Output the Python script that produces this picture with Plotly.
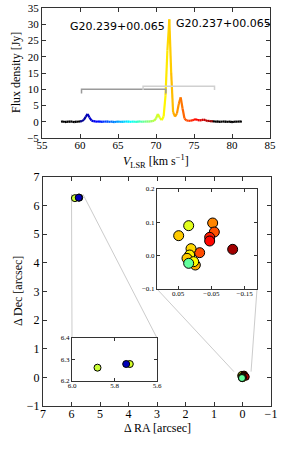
import plotly.graph_objects as go

# ---------------- data ----------------
velocity = [57.5, 57.75, 58.0, 58.25, 58.5, 58.75, 59.0, 59.25, 59.5, 59.75,
            60.0, 60.25, 60.5, 60.75, 61.0, 61.25, 61.5, 61.75, 62.0, 62.25,
            62.5, 62.75, 63.0, 63.25, 63.5, 63.75, 64.0, 64.25, 64.5, 64.75,
            65.0, 65.25, 65.5, 65.75, 66.0, 66.25, 66.5, 66.75, 67.0, 67.25,
            67.5, 67.75, 68.0, 68.25, 68.5, 68.75, 69.0, 69.25, 69.5, 69.75,
            70.0, 70.25, 70.5, 70.75, 71.0, 71.25, 71.5, 71.75, 72.0, 72.25,
            72.5, 72.75, 73.0, 73.25, 73.5, 73.75, 74.0, 74.25, 74.5, 74.75,
            75.0, 75.25, 75.5, 75.75, 76.0, 76.25, 76.5, 76.75, 77.0, 77.25,
            77.5, 77.75, 78.0, 78.25, 78.5, 78.75, 79.0, 79.25, 79.5, 79.75,
            80.0, 80.25, 80.5, 80.75, 81.0, 81.3]
flux = [0.0, 0.1, -0.1, 0.05, -0.05, 0.1, 0.0, -0.1, 0.05, 0.0,
        0.1, 0.2, 0.6, 1.5, 2.4, 1.3, 0.4, 0.2, 0.1, 0.0,
        0.1, -0.05, 0.05, 0.0, 0.1, -0.05, 0.0, 0.05, -0.1, 0.0,
        0.05, 0.0, -0.05, 0.05, 0.0, 0.1, -0.05, 0.0, 0.05, 0.0,
        -0.05, 0.1, 0.0, 0.05, 0.0, 0.1, 0.05, 0.1, 0.2, 0.3,
        1.0, 2.4, 1.2, 0.5, 1.6, 8.0, 22.0, 31.5, 15.0, 3.0,
        1.6, 2.5, 5.5, 7.5, 4.0, 1.0, 0.4, 0.3, 0.3, 0.4,
        0.6, 0.8, 0.5, 0.4, 0.5, 0.7, 0.5, 0.2, 0.3, 0.1,
        0.2, 0.0, 0.1, -0.05, 0.05, 0.0, 0.1, -0.05, 0.0, 0.05,
        -0.1, 0.0, 0.05, 0.0, 0.1, 0.0]
v_min, v_max = 60.0, 77.6

source_names = ["G20.239+00.065", "G20.237+00.065"]
source_label_v = [58.4, 72.4]
source_label_flux = [29.3, 30.1]
bracket_v = [[60.2, 71.3], [68.3, 77.7]]
bracket_level = [10.0, 10.9]
bracket_drop = [1.3, 1.1]
bracket_colors = ["#9a9a9a", "#d0d0d0"]

# maser spots (RA offset, Dec offset, velocity)
far_ra = [5.88, 5.728, 5.745]
far_dec = [6.262, 6.279, 6.279]
far_v = [70.1, 70.3, 61.0]

near_ra = [0.048, 0.018, -0.054, -0.059, -0.045, -0.045, -0.114, -0.015,
           0.011, 0.015, 0.023, -0.002, 0.003, 0.018]
near_dec = [0.060, 0.090, 0.098, 0.071, 0.055, 0.044, 0.019, 0.009,
            0.021, 0.002, -0.008, -0.028, -0.018, -0.023]
near_v = [71.9, 70.5, 73.1, 74.0, 74.9, 75.3, 77.0, 74.1,
          71.7, 71.2, 71.9, 72.4, 71.0, 68.3]

top_xticks = [55, 60, 65, 70, 75, 80, 85]
top_yticks = [-5, 0, 5, 10, 15, 20, 25, 30, 35]
main_ticks_x = [7, 6, 5, 4, 3, 2, 1, 0, -1]
main_ticks_y = [-1, 0, 1, 2, 3, 4, 5, 6, 7]
in1_xticks = [0.05, -0.05, -0.15]
in1_yticks = [-0.1, 0.0, 0.1, 0.2]
in2_xticks = [6.0, 5.8, 5.6]
in2_yticks = [6.2, 6.3, 6.4]

in1_xrange = [0.113, -0.187]
in1_yrange = [-0.1, 0.2]
in2_xrange = [6.0, 5.6]
in2_yrange = [6.2, 6.4]
mark1_box = [0.3, -0.3, 0.2]   # left, right, top of zoomed region on main axes

# ---------------- helpers ----------------
def clip(a):
    return max(0.0, min(1.0, a))

def jet(v):
    if v < v_min or v > v_max:
        return "rgb(0,0,0)"
    x = (v - v_min) / (v_max - v_min)
    r = clip(1.5 - abs(4 * x - 3))
    g = clip(1.5 - abs(4 * x - 2))
    b = clip(1.5 - abs(4 * x - 1))
    return "rgb(%d,%d,%d)" % (r * 255, g * 255, b * 255)

W, H = 285, 456
def px(x0, x1):
    return [x0 / W, x1 / W]
def py(top, bottom):
    return [1 - bottom / H, 1 - top / H]

top_dom_x, top_dom_y = px(42, 270), py(8, 138)
main_dom_x, main_dom_y = px(43, 271), py(177, 406)
in1_dom_x, in1_dom_y = px(157, 257), py(189, 289)
in2_dom_x, in2_dom_y = px(72, 157), py(338, 381)
main_xr, main_yr = [7, -1], [-1, 7]

def main_to_paper(xv, yv):
    fx = (xv - main_xr[0]) / (main_xr[1] - main_xr[0])
    fy = (yv - main_yr[0]) / (main_yr[1] - main_yr[0])
    return (main_dom_x[0] + fx * (main_dom_x[1] - main_dom_x[0]),
            main_dom_y[0] + fy * (main_dom_y[1] - main_dom_y[0]))

fig = go.Figure()

# spectrum, colour-coded by velocity
for i in range(len(velocity) - 1):
    vm = 0.5 * (velocity[i] + velocity[i + 1])
    fig.add_trace(go.Scatter(x=velocity[i:i + 2], y=flux[i:i + 2], mode="lines",
                             line=dict(color=jet(vm), width=2.2),
                             xaxis="x", yaxis="y", showlegend=False, hoverinfo="skip"))

# brackets
for (va, vb), lev, drop, col in zip(bracket_v, bracket_level, bracket_drop, bracket_colors):
    fig.add_trace(go.Scatter(x=[va, va, vb, vb], y=[lev - drop, lev, lev, lev - drop],
                             mode="lines", line=dict(color=col, width=1.5),
                             xaxis="x", yaxis="y", showlegend=False, hoverinfo="skip"))

for name, lv, lf in zip(source_names, source_label_v, source_label_flux):
    fig.add_annotation(x=lv, y=lf, xref="x", yref="y", text=name, showarrow=False,
                       xanchor="left", yanchor="middle",
                       font=dict(family="DejaVu Sans", size=11, color="black"))

# connector lines (inset marks)
def corner_line(p_inset, data_pt):
    x1, y1 = main_to_paper(*data_pt)
    fig.add_shape(type="line", xref="paper", yref="paper",
                  x0=p_inset[0], y0=p_inset[1], x1=x1, y1=y1,
                  line=dict(color="#cccccc", width=1), layer="below")

corner_line((in2_dom_x[0], in2_dom_y[1]), (in2_xrange[0], in2_yrange[1]))
corner_line((in2_dom_x[1], in2_dom_y[1]), (in2_xrange[1], in2_yrange[1]))
corner_line((in1_dom_x[0], in1_dom_y[0]), (mark1_box[0], mark1_box[2]))
corner_line((in1_dom_x[1], in1_dom_y[0]), (mark1_box[1], mark1_box[2]))

def spots(ra, dec, vv, xa, ya, size):
    fig.add_trace(go.Scatter(x=ra, y=dec, mode="markers",
                             marker=dict(size=size, color=[jet(v) for v in vv],
                                         line=dict(color="black", width=1)),
                             xaxis=xa, yaxis=ya, showlegend=False, hoverinfo="skip"))

spots(far_ra, far_dec, far_v, "x2", "y2", 7)
spots(near_ra, near_dec, near_v, "x2", "y2", 7)
spots(near_ra, near_dec, near_v, "x3", "y3", 10)
spots(far_ra, far_dec, far_v, "x4", "y4", 7)

serif = "Liberation Serif"
frame = "#333333"
common = dict(showgrid=False, zeroline=False, showline=True, mirror="ticks",
              ticks="inside", linecolor=frame, tickcolor=frame, linewidth=1,
              automargin=False)

fig.update_layout(
    template="none",
    width=W, height=H, margin=dict(l=0, r=0, t=0, b=0, pad=0),
    paper_bgcolor="white", plot_bgcolor="white", showlegend=False,
    xaxis=dict(domain=top_dom_x, range=[55, 85], tickvals=top_xticks, anchor="y",
               ticklen=4, ticklabelstandoff=-3,
               tickfont=dict(family=serif, size=11, color="black"), **common),
    yaxis=dict(domain=top_dom_y, range=[-5, 35], tickvals=top_yticks, anchor="x",
               ticklen=4, tickfont=dict(family=serif, size=11, color="black"), **common),
    xaxis2=dict(domain=main_dom_x, range=main_xr, tickvals=main_ticks_x, anchor="y2",
                ticklen=4, ticklabelstandoff=-3,
                tickfont=dict(family=serif, size=12, color="black"), **common),
    yaxis2=dict(domain=main_dom_y, range=main_yr, tickvals=main_ticks_y, anchor="x2",
                ticklen=4, tickfont=dict(family=serif, size=12, color="black"), **common),
    xaxis3=dict(domain=in1_dom_x, range=in1_xrange, tickvals=in1_xticks, anchor="y3",
                ticklen=3, tickformat=".2f", ticklabelstandoff=-2,
                tickfont=dict(family=serif, size=7, color="black"), **common),
    yaxis3=dict(domain=in1_dom_y, range=in1_yrange, tickvals=in1_yticks, anchor="x3",
                ticklen=3, tickformat=".1f",
                tickfont=dict(family=serif, size=7, color="black"), **common),
    xaxis4=dict(domain=in2_dom_x, range=in2_xrange, tickvals=in2_xticks, anchor="y4",
                ticklen=3, tickformat=".1f", ticklabelstandoff=-2,
                tickfont=dict(family=serif, size=7, color="black"), **common),
    yaxis4=dict(domain=in2_dom_y, range=in2_yrange, tickvals=in2_yticks, anchor="x4",
                ticklen=3, tickformat=".1f",
                tickfont=dict(family=serif, size=7, color="black"), **common),
)

# axis titles
def title(text, x, y, angle=0):
    fig.add_annotation(x=x / W, y=1 - y / H, xref="paper", yref="paper", text=text,
                       showarrow=False, textangle=angle, xanchor="center", yanchor="middle",
                       font=dict(family=serif, size=12, color="black"))

title("Flux density [Jy]", 16, 73, -90)
title("<i>V</i><sub>LSR</sub> [km s<sup>−1</sup>]", 156, 161)
title("Δ Dec [arcsec]", 18, 291, -90)
title("Δ RA [arcsec]", 157, 428)

fig.write_html("out.html", config={"displayModeBar": False, "staticPlot": True},
               post_script="document.body.style.margin='0';document.body.style.overflow='hidden';")
